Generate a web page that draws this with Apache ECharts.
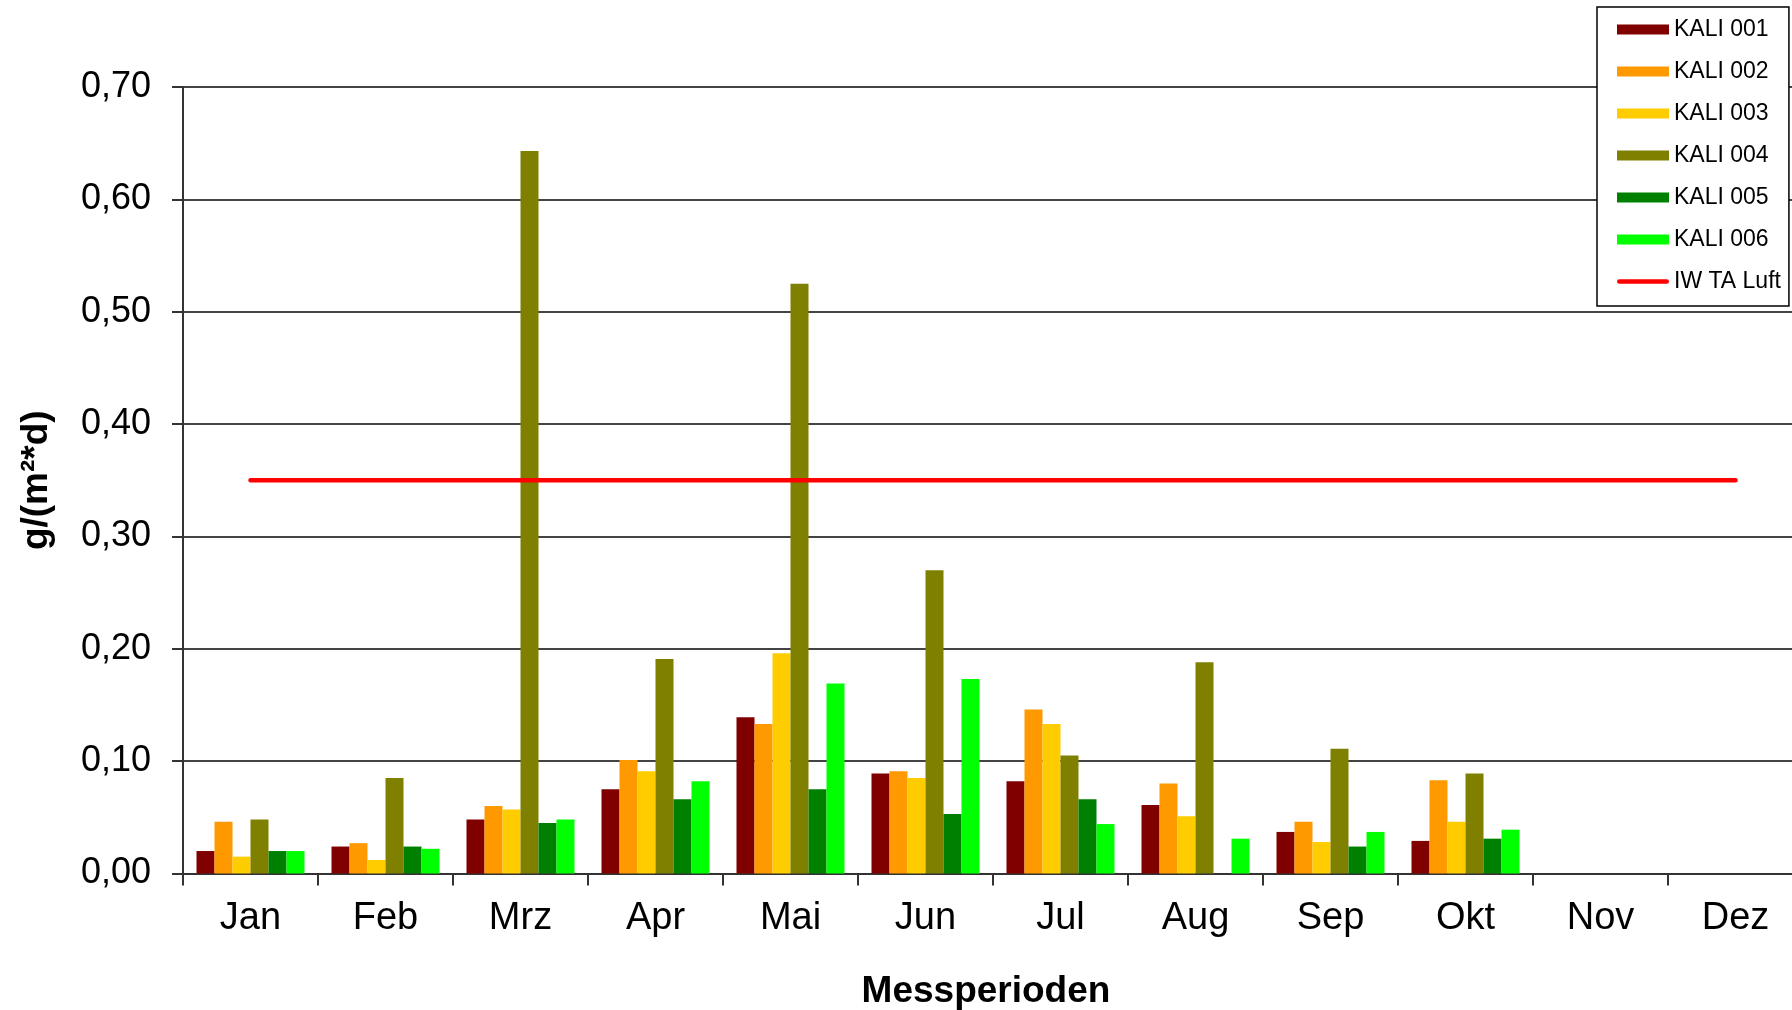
<!DOCTYPE html>
<html>
<head>
<meta charset="utf-8">
<script src="https://cdn.jsdelivr.net/npm/echarts@6/dist/echarts.min.js"></script>
<style>
html,body{margin:0;padding:0;background:#fff;}
#chart{width:1792px;height:1010px;}
</style>
</head>
<body>
<div id="chart"></div>
<script>
var categories = ['Jan','Feb','Mrz','Apr','Mai','Jun','Jul','Aug','Sep','Okt','Nov','Dez'];
var seriesNames = ['KALI 001','KALI 002','KALI 003','KALI 004','KALI 005','KALI 006'];
var kali001 = [0.020, 0.024, 0.048, 0.075, 0.139, 0.089, 0.082, 0.061, 0.037, 0.029, null, null];
var kali002 = [0.046, 0.027, 0.060, 0.101, 0.133, 0.091, 0.146, 0.080, 0.046, 0.083, null, null];
var kali003 = [0.015, 0.012, 0.057, 0.091, 0.196, 0.085, 0.133, 0.051, 0.028, 0.046, null, null];
var kali004 = [0.048, 0.085, 0.643, 0.191, 0.525, 0.270, 0.105, 0.188, 0.111, 0.089, null, null];
var kali005 = [0.020, 0.024, 0.045, 0.066, 0.075, 0.053, 0.066, null, 0.024, 0.031, null, null];
var kali006 = [0.020, 0.022, 0.048, 0.082, 0.169, 0.173, 0.044, 0.031, 0.037, 0.039, null, null];
var limitName = 'IW TA Luft';
var limitValues = [0.35, 0.35, 0.35, 0.35, 0.35, 0.35, 0.35, 0.35, 0.35, 0.35, 0.35, 0.35];
var yTicks = {min: 0, max: 0.7, interval: 0.1};
var colors = ['#800000','#ff9900','#ffcc00','#808000','#008000','#00ff00'];

var FONT = "'Liberation Sans', Arial, sans-serif";
var barData = [kali001, kali002, kali003, kali004, kali005, kali006];

var series = barData.map(function (d, i) {
  return {
    name: seriesNames[i],
    type: 'bar',
    data: d,
    barGap: '0%',
    barCategoryGap: '20%',
    itemStyle: {color: colors[i]},
    z: 2
  };
});
series.push({
  name: limitName,
  type: 'line',
  data: limitValues,
  symbol: 'none',
  lineStyle: {color: '#ff0000', width: 4.5, cap: 'round'},
  itemStyle: {color: '#ff0000'},
  z: 5
});

var lineIcon = 'path://M2.35,0 L49.65,0 A2.35,2.35 0 0 1 49.65,4.7 L2.35,4.7 A2.35,2.35 0 0 1 2.35,0 Z';

var chart = echarts.init(document.getElementById('chart'), null, {renderer: 'canvas'});
chart.setOption({
  animation: false,
  backgroundColor: '#ffffff',
  textStyle: {fontFamily: FONT},
  grid: {left: 183, top: 87, width: 1620, height: 786.5, containLabel: false, outerBoundsMode: 'none'},
  legend: {
    orient: 'vertical',
    left: 1597,
    top: 7,
    backgroundColor: '#ffffff',
    borderColor: '#000000',
    borderWidth: 1.5,
    borderRadius: 0,
    padding: [11, 8, 13, 20],
    itemWidth: 52,
    itemHeight: 10,
    itemGap: 19,
    symbolKeepAspect: true,
    textStyle: {fontFamily: FONT, fontSize: 23, color: '#000', padding: [0, 0, 0, 0]},
    data: seriesNames.map(function (n) { return {name: n, icon: 'rect'}; }).concat([{name: limitName, icon: lineIcon}])
  },
  xAxis: {
    type: 'category',
    data: categories,
    boundaryGap: true,
    name: 'Messperioden',
    nameLocation: 'middle',
    nameGap: 100,
    nameTextStyle: {fontFamily: FONT, fontSize: 37, fontWeight: 'bold', color: '#000', padding: [0, 14, 0, 0]},
    axisLine: {lineStyle: {color: '#333', width: 2}},
    axisTick: {show: true, alignWithLabel: false, length: 12, lineStyle: {color: '#333', width: 2}},
    axisLabel: {fontFamily: FONT, fontSize: 38, color: '#000', margin: 26},
    splitLine: {show: false}
  },
  yAxis: {
    type: 'value',
    min: yTicks.min,
    max: yTicks.max,
    interval: yTicks.interval,
    name: 'g/(m²*d)',
    nameLocation: 'middle',
    nameRotate: 90,
    nameGap: 128,
    nameTextStyle: {fontFamily: FONT, fontSize: 37, fontWeight: 'bold', color: '#000'},
    axisLine: {show: true, lineStyle: {color: '#333', width: 2}},
    axisTick: {show: true, inside: false, length: 11, lineStyle: {color: '#333', width: 2}},
    axisLabel: {
      fontFamily: FONT, fontSize: 36, color: '#000', margin: 32,
      formatter: function (v) { return v.toFixed(2).replace('.', ','); }
    },
    splitLine: {show: true, lineStyle: {color: '#444', width: 2}}
  },
  series: series
});
</script>
</body>
</html>
